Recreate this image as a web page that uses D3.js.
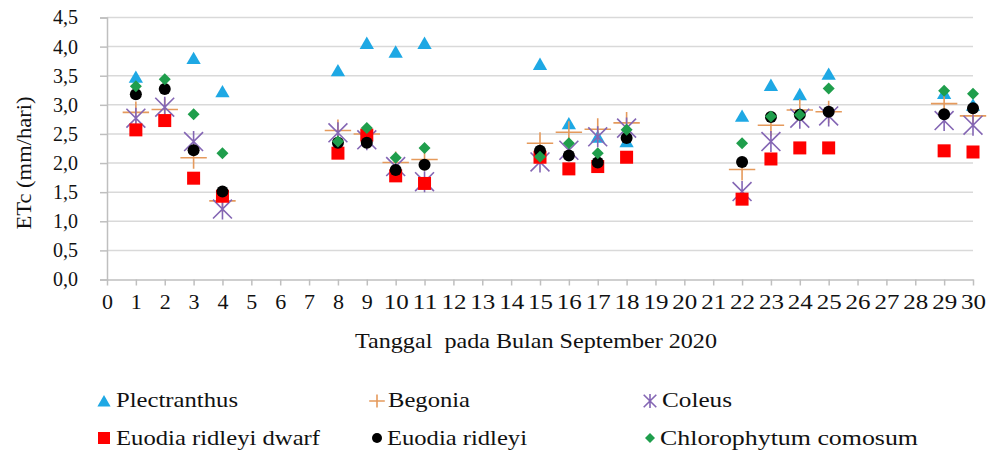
<!DOCTYPE html>
<meta charset="utf-8">
<style>
    body { margin: 0; background: #fff; }
    text { font-family: "Liberation Serif", "Times New Roman", serif; fill: #111; white-space: pre; }
</style>
<div class="chart"></div>
<script src="https://cdn.jsdelivr.net/npm/d3@7/dist/d3.min.js"></script>
<script>
    // data
    var plectDays = [1,3,4,8,9,10,11,15,16,17,18,22,23,24,25,29,30];
    var plectranthus = [3.48,3.80,3.23,3.59,4.06,3.91,4.06,3.70,2.68,2.45,2.37,2.81,3.34,3.18,3.53,3.20,3.00];

    var days = [1,2,3,4,8,9,10,11,15,16,17,18,22,23,24,25,29,30];
    var begonia = [2.87,2.92,2.09,1.35,2.56,2.50,2.01,2.06,2.34,2.53,2.58,2.69,1.89,2.65,2.91,2.88,3.02,2.81];
    var coleus = [2.77,2.96,2.37,1.21,2.52,2.40,1.94,1.68,2.02,2.22,2.45,2.60,1.51,2.37,2.77,2.81,2.73,2.65];
    var euodiaDwarf = [2.57,2.73,1.74,1.43,2.17,2.48,1.78,1.65,2.10,1.90,1.94,2.10,1.38,2.07,2.26,2.26,2.21,2.19];
    var euodia = [3.18,3.27,2.22,1.51,2.35,2.35,1.88,1.97,2.21,2.13,2.01,2.43,2.02,2.79,2.83,2.88,2.84,2.94];
    var chloro = [3.32,3.44,2.84,2.17,2.37,2.60,2.09,2.26,2.11,2.34,2.17,2.57,2.34,2.80,2.83,3.28,3.24,3.19];

    var yTicks = [0,0.5,1,1.5,2,2.5,3,3.5,4,4.5];
    var xTicks = d3.range(0, 31);

    var series = [
        {name: "Plectranthus", days: plectDays, vals: plectranthus, shape: "tri", color: "#1ea8e4"},
        {name: "Begonia", days: days, vals: begonia, shape: "plus", color: "#e59a5c"},
        {name: "Coleus", days: days, vals: coleus, shape: "star", color: "#8466b4"},
        {name: "Euodia ridleyi dwarf", days: days, vals: euodiaDwarf, shape: "sq", color: "#ff0000"},
        {name: "Euodia ridleyi", days: days, vals: euodia, shape: "dot", color: "#000000"},
        {name: "Chlorophytum comosum", days: days, vals: chloro, shape: "dia", color: "#1f9e4c"}
    ];

    var width = 987, height = 454;
    var svg = d3.select('.chart').append('svg')
        .attr('width', width).attr('height', height);

    var x = d3.scaleLinear().domain([0, 30]).range([107, 973]);
    var y = d3.scaleLinear().domain([0, 4.5]).range([279.5, 17.5]);

    // gridlines
    svg.append('g').selectAll('line')
        .data(yTicks.slice(1))
        .enter().append('line')
        .attr('x1', x(0)).attr('x2', x(30))
        .attr('y1', function(d) { return y(d); })
        .attr('y2', function(d) { return y(d); })
        .attr('stroke', '#d9d9d9').attr('stroke-width', 1.5);

    // y axis
    var yAxis = d3.axisLeft(y).tickValues(yTicks).tickSize(7)
        .tickFormat(function(d) { return d3.format('.1f')(d).replace('.', ','); });
    var gy = svg.append('g').attr('transform', 'translate(' + x(0) + ',0)').call(yAxis);
    gy.select('.domain').attr('stroke', '#bfbfbf').attr('stroke-width', 1.5);
    gy.selectAll('.tick line').attr('stroke', '#bfbfbf').attr('stroke-width', 1.5);
    gy.selectAll('.tick text')
        .attr('font-size', 20).attr('x', -29).attr('fill', '#111')
        .attr('textLength', 25).attr('lengthAdjust', 'spacingAndGlyphs');

    // x axis
    var xAxis = d3.axisBottom(x).tickValues(xTicks).tickSize(6).tickSizeOuter(0);
    var gx = svg.append('g').attr('transform', 'translate(0,' + y(0) + ')').call(xAxis);
    gx.select('.domain').attr('stroke', '#bfbfbf').attr('stroke-width', 1.5);
    gx.selectAll('.tick line').attr('stroke', '#bfbfbf').attr('stroke-width', 1.5);
    gx.selectAll('.tick text')
        .attr('font-size', 20).attr('y', 15).attr('fill', '#111')
        .attr('textLength', function(d) { return d < 10 ? 11 : 25; })
        .attr('lengthAdjust', 'spacingAndGlyphs');

    // axis titles
    svg.append('text')
        .attr('x', 536).attr('y', 348)
        .attr('text-anchor', 'middle').attr('font-size', 21)
        .attr('textLength', 362).attr('lengthAdjust', 'spacingAndGlyphs')
        .text('Tanggal  pada Bulan September 2020');

    svg.append('text')
        .attr('transform', 'translate(31,163) rotate(-90)')
        .attr('text-anchor', 'middle').attr('font-size', 21)
        .attr('textLength', 133).attr('lengthAdjust', 'spacingAndGlyphs')
        .text('ETc (mm/hari)');

    // marker shapes
    function drawMarker(g, shape, color, s) {
        if (shape == 'tri') {
            g.append('path').attr('d', 'M0,' + (-s * 0.5) + 'L' + (s * 0.55) + ',' + (s * 0.45) + 'L' + (-s * 0.55) + ',' + (s * 0.45) + 'Z')
                .attr('fill', color);
        } else if (shape == 'sq') {
            g.append('rect').attr('x', -s / 2).attr('y', -s / 2).attr('width', s).attr('height', s).attr('fill', color);
        } else if (shape == 'dot') {
            g.append('circle').attr('r', s / 2).attr('fill', color);
        } else if (shape == 'dia') {
            g.append('path').attr('d', 'M0,' + (-s * 0.5) + 'L' + (s * 0.5) + ',0L0,' + (s * 0.5) + 'L' + (-s * 0.5) + ',0Z')
                .attr('fill', color);
        } else if (shape == 'plus') {
            var w = s * 1.2, h = s;
            g.append('path').attr('d', 'M' + (-w / 2) + ',0H' + (w / 2) + 'M0,' + (-h / 2) + 'V' + (h / 2))
                .attr('stroke', color).attr('stroke-width', 1.6).attr('fill', 'none');
        } else if (shape == 'star') {
            var a = s * 0.45, b = s * 0.5;
            g.append('path').attr('d', 'M' + (-a) + ',' + (-a) + 'L' + a + ',' + a + 'M' + a + ',' + (-a) + 'L' + (-a) + ',' + a + 'M0,' + (-b) + 'V' + b)
                .attr('stroke', color).attr('stroke-width', 1.6).attr('fill', 'none');
        }
    }

    var sizes = {tri: 13, sq: 13, dot: 12, dia: 12, plus: 22, star: 21};

    series.forEach(function(sr) {
        var pts = sr.days.map(function(d, i) { return {day: d, v: sr.vals[i]}; });
        svg.append('g').selectAll('g')
            .data(pts)
            .enter().append('g')
            .attr('transform', function(d) { return 'translate(' + x(d.day) + ',' + y(d.v) + ')'; })
            .each(function() { drawMarker(d3.select(this), sr.shape, sr.color, sizes[sr.shape]); });
    });

    // legend
    var legendPos = [
        {mx: 104, tx: 116, my: 401, ty: 407}, {mx: 377, tx: 388, my: 401, ty: 407}, {mx: 650, tx: 662, my: 401, ty: 407},
        {mx: 104, tx: 116, my: 438, ty: 445}, {mx: 377, tx: 387, my: 438, ty: 445}, {mx: 650, tx: 660, my: 438, ty: 445}
    ];
    var legendW = [122, 82, 70, 204, 140, 258];
    var legendSize = {tri: 12, sq: 12, dot: 10, dia: 10, plus: 13, star: 14};
    series.forEach(function(sr, i) {
        var p = legendPos[i];
        var g = svg.append('g').attr('transform', 'translate(' + p.mx + ',' + p.my + ')');
        drawMarker(g, sr.shape, sr.color, legendSize[sr.shape]);
        svg.append('text')
            .attr('x', p.tx).attr('y', p.ty)
            .attr('font-size', 21)
            .attr('textLength', legendW[i]).attr('lengthAdjust', 'spacingAndGlyphs')
            .text(sr.name);
    });
</script>
